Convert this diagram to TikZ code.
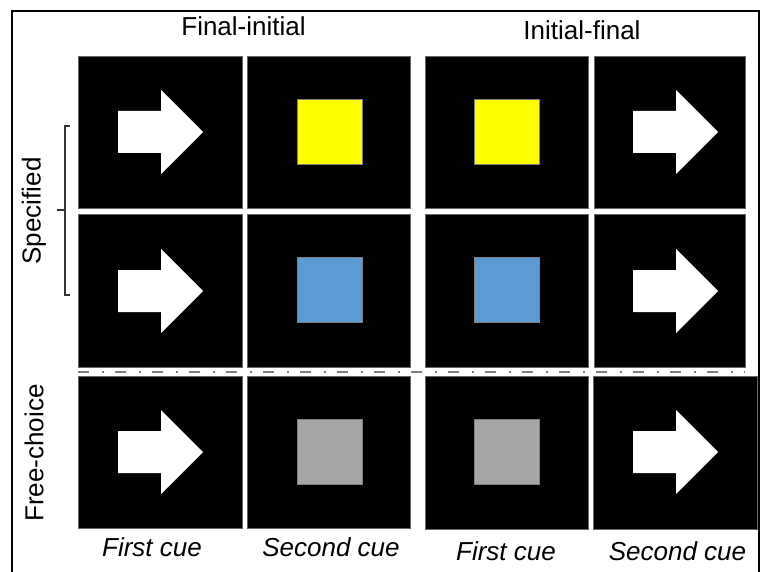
\documentclass[tikz,border=0pt]{standalone}
\usepackage{fontspec}
\setmainfont{Liberation Sans}
\definecolor{cueyellow}{HTML}{FFFF00}
\definecolor{cueblue}{HTML}{5B9BD5}
\definecolor{cuegray}{HTML}{A6A6A6}
\definecolor{sepgray}{HTML}{7F7F7F}
\begin{document}
\begin{tikzpicture}[x=1pt,y=-1pt,
  panel/.style={draw=black!60,line width=0.8pt,fill=black,inner sep=0pt,minimum height=152pt},
  cuesq/.style={inner sep=0pt,minimum width=65pt,minimum height=65pt,draw=black!50,line width=0.6pt},
  arrowshape/.style={fill=white,draw=none},
  lbl/.style={font=\fontsize{26}{30}\selectfont,inner sep=0pt,anchor=base},
  ilbl/.style={font=\fontsize{26}{30}\selectfont\itshape,inner sep=0pt,anchor=base},
  side/.style={font=\fontsize{26}{30}\selectfont,inner sep=0pt,rotate=90}]
\useasboundingbox (0,0) rectangle (760,572);
\fill[white] (0,0) rectangle (760,572);
\draw[line width=1.5pt] (12,11) rectangle (759,580);
% headers
\node[lbl] (h1) at (243.5,36) {Final-initial};
\node[lbl] (h2) at (582,40) {Initial-final};
% panels
\node[panel,minimum width=164pt] (p11) at (160,132) {};
\node[panel,minimum width=163pt] (p12) at (328.5,132) {};
\node[panel,minimum width=163pt] (p13) at (506.5,132) {};
\node[panel,minimum width=151pt] (p14) at (669.5,132) {};
\node[panel,minimum width=164pt,minimum height=153pt] (p21) at (160,290.5) {};
\node[panel,minimum width=163pt,minimum height=153pt] (p22) at (328.5,290.5) {};
\node[panel,minimum width=163pt,minimum height=153pt] (p23) at (506.5,290.5) {};
\node[panel,minimum width=151pt,minimum height=153pt] (p24) at (669.5,290.5) {};
\node[panel,minimum width=164pt] (p31) at (160,452) {};
\node[panel,minimum width=163pt] (p32) at (328.5,452) {};
\node[panel,minimum width=163pt,minimum height=153pt] (p33) at (506.5,453) {};
\node[panel,minimum width=164pt,minimum height=153pt] (p34) at (675,453) {};
% arrows (left end of shaft, vertical centre)
\foreach \n/\xl/\yc in {a11/118/132, a14/633/132, a21/118/291, a24/633/291, a31/118/452, a34/633/452}{
  \coordinate (\n) at (\xl,\yc);
  \fill[arrowshape] (\n) ++(0,-21) -- ++(43,0) -- ++(0,-21) -- ++(42,42) -- ++(-42,42) -- ++(0,-21) -- ++(-43,0) -- cycle;
}
% squares
\node[cuesq,fill=cueyellow] (s12) at (329.5,131.5) {};
\node[cuesq,fill=cueyellow] (s13) at (506.5,131.5) {};
\node[cuesq,fill=cueblue] (s22) at (329.5,290) {};
\node[cuesq,fill=cueblue] (s23) at (506.5,290) {};
\node[cuesq,fill=cuegray] (s32) at (329.5,452) {};
\node[cuesq,fill=cuegray] (s33) at (506.5,452) {};
% separator
\coordinate (sepL) at (78,372);
\coordinate (sepR) at (745,372);
\draw[sepgray,line width=2pt,dash pattern=on 11pt off 13pt on 2pt off 11pt] (sepL) -- (sepR);
% bracket
\coordinate (bt) at (65,126);
\coordinate (bb) at (65,295);
\coordinate (bm) at (65,210);
\draw[line width=1.2pt,black!80] ([xshift=5pt]bt) -- (bt) -- (bb) -- ([xshift=5pt]bb);
\draw[line width=1.2pt,black!80] (bm) -- ([xshift=-8pt]bm);
% side labels
\node[side] (spec) at (34,211) {Specified};
\node[side] (free) at (34,453) {Free-choice};
% bottom labels
\node[ilbl] (b1) at (152,556) {First cue};
\node[ilbl] (b2) at (331,556) {Second cue};
\node[ilbl] (b3) at (506,560) {First cue};
\node[ilbl] (b4) at (677.5,560) {Second cue};
\end{tikzpicture}
\end{document}
